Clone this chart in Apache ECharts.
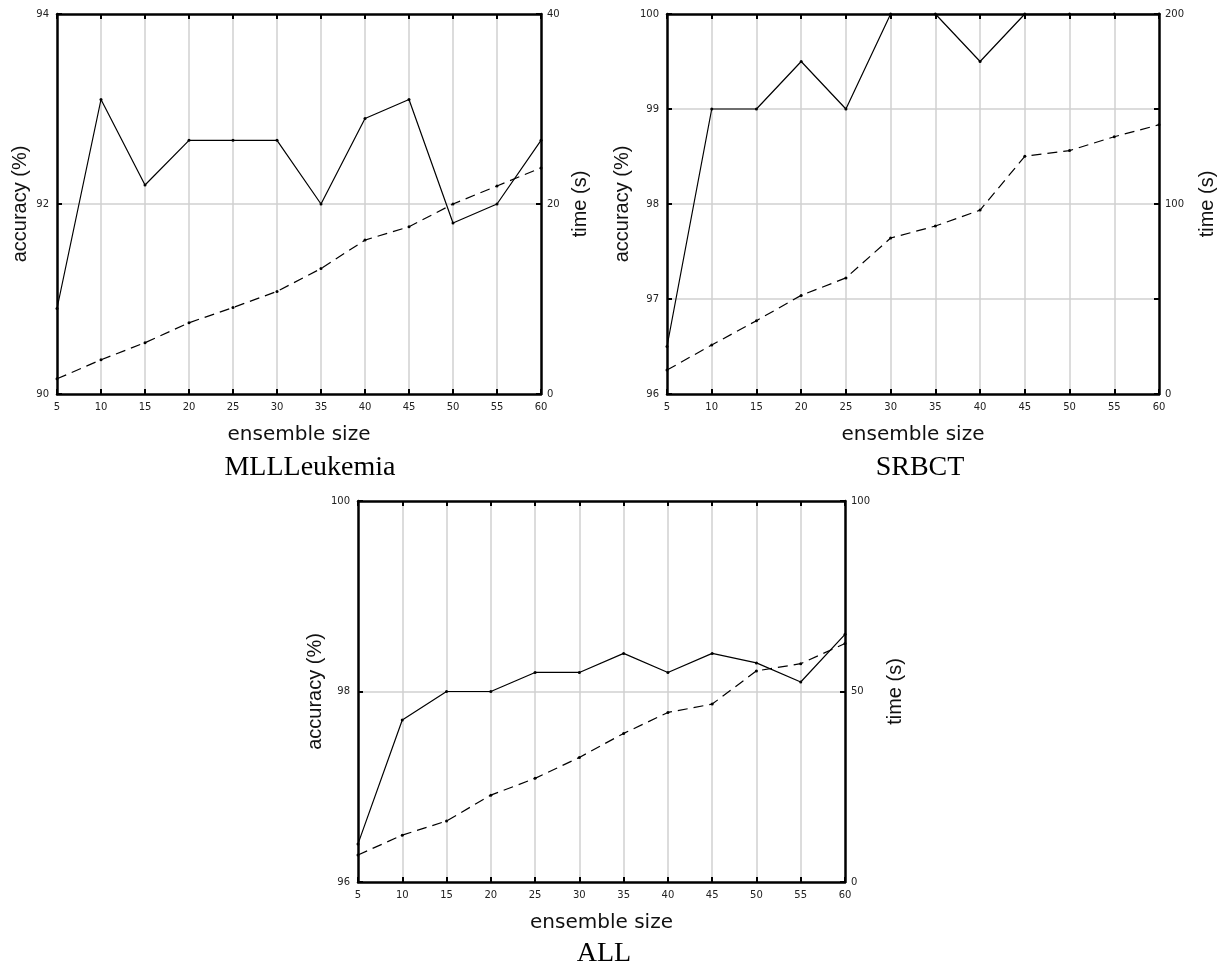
<!DOCTYPE html>
<html>
<head>
<meta charset="utf-8">
<script src="https://cdn.jsdelivr.net/npm/echarts@6/dist/echarts.min.js"></script>
<style>
html, body { margin: 0; padding: 0; background: #fff; }
#chart { width: 1226px; height: 969px; }
</style>
</head>
<body>
<div id="chart"></div>
<script>
// x axis: ensemble size
const ensembleSizes = [5, 10, 15, 20, 25, 30, 35, 40, 45, 50, 55, 60];

// MLLLeukemia
const mllAccuracy = [90.9, 93.1, 92.2, 92.67, 92.67, 92.67, 92.0, 92.9, 93.1, 91.8, 92.0, 92.67];
const mllTime = [1.6, 3.6, 5.4, 7.5, 9.1, 10.8, 13.2, 16.2, 17.6, 20.0, 21.9, 23.8];
const mllAccTicks = [90, 92, 94];
const mllTimeTicks = [0, 20, 40];

// SRBCT
const srbctAccuracy = [96.5, 99, 99, 99.5, 99, 100, 100, 99.5, 100, 100, 100, 100];
const srbctTime = [12.6, 25.8, 38.6, 51.9, 61.1, 82.1, 88.4, 96.8, 125.1, 128.1, 135.4, 141.7];
const srbctAccTicks = [96, 97, 98, 99, 100];
const srbctTimeTicks = [0, 100, 200];

// ALL
const allAccuracy = [96.4, 97.7, 98.0, 98.0, 98.2, 98.2, 98.4, 98.2, 98.4, 98.3, 98.1, 98.6];
const allTime = [7.1, 12.3, 16.0, 22.8, 27.2, 32.7, 39.0, 44.5, 46.7, 55.4, 57.3, 62.6];
const allAccTicks = [96, 98, 100];
const allTimeTicks = [0, 50, 100];

// panel layout (pixels) and axis ranges
const panels = [
    { title: 'MLLLeukemia', titleX: 310, titleY: 468,
      grid: { left: 57, top: 14, width: 484, height: 380 },
      acc: mllAccuracy, time: mllTime,
      accRange: [90, 94, 2], timeRange: [0, 40, 20],
      accTicks: mllAccTicks, timeTicks: mllTimeTicks,
      accGap: 27, timeGap: 29 },
    { title: 'SRBCT', titleX: 920, titleY: 468,
      grid: { left: 667, top: 14, width: 492, height: 380 },
      acc: srbctAccuracy, time: srbctTime,
      accRange: [96, 100, 1], timeRange: [0, 200, 50],
      accTicks: srbctAccTicks, timeTicks: srbctTimeTicks,
      accGap: 35, timeGap: 38 },
    { title: 'ALL', titleX: 604, titleY: 954,
      grid: { left: 358, top: 501, width: 487, height: 381 },
      acc: allAccuracy, time: allTime,
      accRange: [96, 100, 2], timeRange: [0, 100, 50],
      accTicks: allAccTicks, timeTicks: allTimeTicks,
      accGap: 33, timeGap: 40 }
];

const BLACK = '#000';
const GRID_GRAY = '#d0d0d0';
const tickLabelStyle = { fontFamily: 'DejaVu Sans', fontSize: 10, color: '#222' };
const axisLine = { show: true, lineStyle: { color: BLACK, width: 2.5 } };
const axisTick = { show: true, inside: true, length: 5, lineStyle: { color: BLACK, width: 2 } };
const splitLine = { show: true, showMinLine: false, showMaxLine: false,
                    lineStyle: { color: GRID_GRAY, width: 1.5 } };

const grids = [], xAxes = [], yAxes = [], series = [], graphics = [];

panels.forEach((p, i) => {
    grids.push(Object.assign({ show: false, containLabel: false }, p.grid));

    // bottom x axis
    xAxes.push({
        gridIndex: i, type: 'value', position: 'bottom',
        min: 5, max: 60, interval: 5,
        name: 'ensemble size', nameLocation: 'middle', nameGap: 31,
        nameTextStyle: { fontFamily: 'DejaVu Sans', fontSize: 20, color: '#111' },
        axisLine: axisLine, axisTick: axisTick,
        axisLabel: Object.assign({ margin: 8, showMinLabel: true, showMaxLabel: true }, tickLabelStyle),
        splitLine: splitLine
    });
    // top x axis (ticks only)
    xAxes.push({
        gridIndex: i, type: 'value', position: 'top',
        min: 5, max: 60, interval: 5,
        axisLine: axisLine, axisTick: axisTick,
        axisLabel: { show: false }, splitLine: { show: false }
    });

    // left: accuracy
    yAxes.push({
        gridIndex: i, type: 'value', position: 'left',
        min: p.accRange[0], max: p.accRange[1], interval: p.accRange[2],
        name: 'accuracy (%)', nameLocation: 'middle', nameGap: p.accGap,
        nameTextStyle: { fontFamily: 'Liberation Sans', fontSize: 20, color: '#111' },
        axisLine: axisLine, axisTick: axisTick,
        axisLabel: Object.assign({
            margin: 8, showMinLabel: true, showMaxLabel: true,
            formatter: v => p.accTicks.includes(v) ? String(v) : ''
        }, tickLabelStyle),
        splitLine: splitLine
    });
    // right: time
    yAxes.push({
        gridIndex: i, type: 'value', position: 'right',
        min: p.timeRange[0], max: p.timeRange[1], interval: p.timeRange[2],
        name: 'time (s)', nameLocation: 'middle', nameGap: p.timeGap,
        nameTextStyle: { fontFamily: 'Liberation Sans', fontSize: 20, color: '#111' },
        axisLine: axisLine, axisTick: axisTick,
        axisLabel: Object.assign({
            margin: 6, showMinLabel: true, showMaxLabel: true,
            formatter: v => p.timeTicks.includes(v) ? String(v) : ''
        }, tickLabelStyle),
        splitLine: { show: false }
    });

    series.push({
        type: 'line', name: p.title + ' accuracy',
        xAxisIndex: i * 2, yAxisIndex: i * 2,
        data: ensembleSizes.map((x, k) => [x, p.acc[k]]),
        symbol: 'circle', symbolSize: 3, showSymbol: true,
        lineStyle: { color: BLACK, width: 1.2 },
        itemStyle: { color: BLACK },
        z: 5
    });
    series.push({
        type: 'line', name: p.title + ' time',
        xAxisIndex: i * 2, yAxisIndex: i * 2 + 1,
        data: ensembleSizes.map((x, k) => [x, p.time[k]]),
        symbol: 'circle', symbolSize: 3, showSymbol: true,
        lineStyle: { color: BLACK, width: 1.2, type: [10, 6] },
        itemStyle: { color: BLACK },
        z: 5
    });

    graphics.push({
        type: 'text', x: p.titleX, y: p.titleY,
        style: {
            text: p.title, fill: BLACK,
            font: '28px "Liberation Serif", serif',
            align: 'center', verticalAlign: 'middle'
        }
    });
});

const chart = echarts.init(document.getElementById('chart'));
chart.setOption({
    animation: false,
    backgroundColor: '#fff',
    grid: grids,
    xAxis: xAxes,
    yAxis: yAxes,
    series: series,
    graphic: graphics
});
</script>
</body>
</html>
